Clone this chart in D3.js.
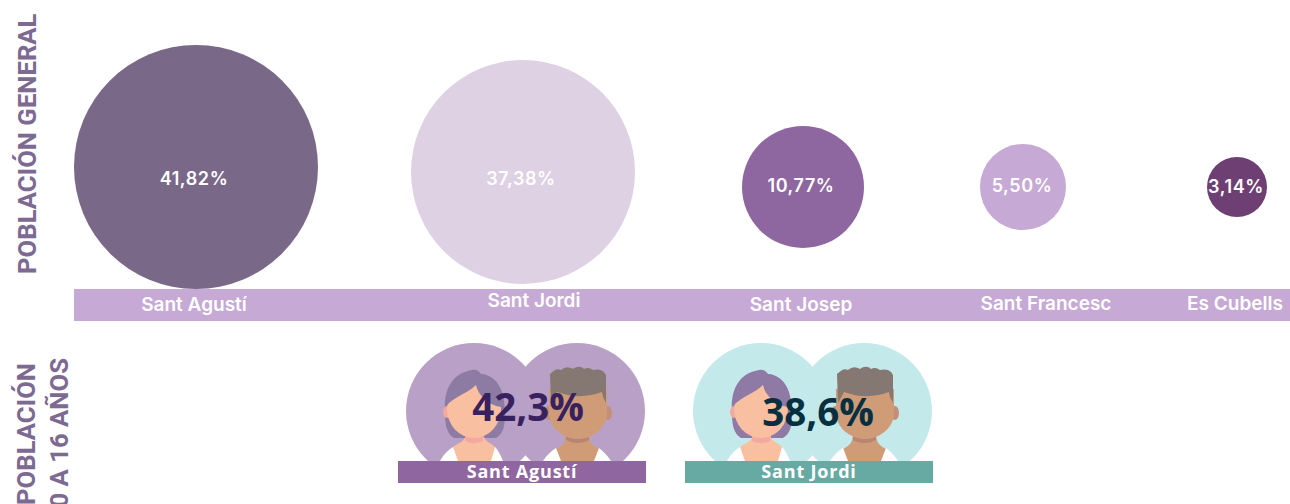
<!DOCTYPE html>
<html>
<head>
<meta charset="utf-8">
<script src="https://cdn.jsdelivr.net/npm/d3@7"></script>
<style>
    html, body { margin: 0; padding: 0; background: #fff; overflow: hidden; }
    .strip-label { font: 600 19px Inter, sans-serif; fill: #fff; text-anchor: middle; }
    .bubble-label { font: 600 18px Inter, sans-serif; fill: #fff; text-anchor: middle; letter-spacing: 0.6px; }
    .side-title { font: 700 25.7px Roboto, sans-serif; fill: #7c6a92; }
    .youth-value { font: 700 38.5px "Open Sans", sans-serif; text-anchor: middle; }
    .youth-name { font: 700 18px "Open Sans", sans-serif; fill: #fff; text-anchor: middle; letter-spacing: 0.8px; }
</style>
</head>
<body>
<div id="chart"></div>
<script>
const districts = ["Sant Agustí", "Sant Jordi", "Sant Josep", "Sant Francesc", "Es Cubells"];
const populationShare = [41.82, 37.38, 10.77, 5.50, 3.14];
const youthDistricts = ["Sant Agustí", "Sant Jordi"];
const youthShare = [42.3, 38.6];
const bubbleColors = ["#7a6888", "#ded1e3", "#8f67a0", "#c6a9d4", "#6e3f73"];

const width = 1290, height = 504;

const svg = d3.select("#chart").append("svg")
    .attr("width", width)
    .attr("height", height)
    .style("display", "block");

const es = d3.formatLocale({decimal: ",", thousands: ".", grouping: [3], currency: ["", "€"]});
const fmt2 = es.format(".2f");
const fmt1 = es.format(".1f");

// the bubbles are not evenly spaced in the original, so ordinal ranges
const bubbleX = d3.scaleOrdinal().domain(districts).range([196, 523, 803, 1023, 1237]);
const bubbleY = d3.scaleOrdinal().domain(districts).range([167, 172, 187, 187, 187]);
const labelX = d3.scaleOrdinal().domain(districts).range([194, 534, 801, 1046, 1235]);
const labelY = d3.scaleOrdinal().domain(districts).range([311, 307, 311, 310, 310]);
const valueX = d3.scaleOrdinal().domain(districts).range([194, 521, 801, 1022, 1236]);
const valueY = d3.scaleOrdinal().domain(districts).range([185, 185, 192, 192, 193]);
const radius = d3.scaleSqrt().domain([3.14, 5.5, 10.77, 37.38, 41.82]).range([30, 43, 61, 112, 122]);
const color = d3.scaleOrdinal().domain(districts).range(bubbleColors);

const general = districts.map((d, i) => ({name: d, value: populationShare[i]}));

svg.append("rect")
    .attr("x", 74).attr("y", 289)
    .attr("width", width - 74).attr("height", 32)
    .attr("fill", "#c6a9d4");

svg.append("g").selectAll("circle")
    .data(general)
    .enter().append("circle")
    .attr("cx", d => bubbleX(d.name))
    .attr("cy", d => bubbleY(d.name))
    .attr("r", d => radius(d.value))
    .attr("fill", d => color(d.name));

svg.append("g").selectAll("text")
    .data(general)
    .enter().append("text")
    .attr("class", "bubble-label")
    .attr("x", d => valueX(d.name))
    .attr("y", d => valueY(d.name))
    .text(d => fmt2(d.value) + "%");

svg.append("g").selectAll("text")
    .data(general)
    .enter().append("text")
    .attr("class", "strip-label")
    .attr("x", d => labelX(d.name))
    .attr("y", d => labelY(d.name))
    .text(d => d.name);

// side titles, rotated
function sideTitle(text, x, y, anchor) {
    svg.append("text")
        .attr("class", "side-title")
        .attr("text-anchor", anchor)
        .attr("transform", "translate(" + x + "," + y + ") rotate(-90)")
        .text(text);
}
sideTitle("POBLACIÓN GENERAL", 36, 274, "start");
sideTitle("POBLACIÓN", 35, 363, "end");
sideTitle("0 A 16 AÑOS", 68, 358, "end");

// faces
function drawWoman(g, hair) {
    g.append("path").attr("fill", hair)
        .attr("d", "M-29,2 C-31,-24 -20,-38 -2,-41 C2,-42 5,-40 7,-37 C22,-36 31,-22 31,2 C31,14 30,22 22,27 L-20,27 C-28,22 -29,12 -29,2 Z");
    g.append("path").attr("fill", "#f8c0a0")
        .attr("d", "M-21,50 L-21,36 C-14,31 -8,30 -8,22 L9,22 C9,30 16,31 21,36 L25,50 Z");
    g.append("path").attr("fill", "#fff")
        .attr("d", "M-34,50 C-30,43 -26,39 -21,36 L-16,50 Z");
    g.append("path").attr("fill", "#fff")
        .attr("d", "M29,50 C26,43 24,39 21,36 L17,50 Z");
    g.append("ellipse").attr("cx", -27).attr("cy", 1).attr("rx", 4).attr("ry", 6).attr("fill", "#f3a9a0");
    g.append("path").attr("fill", "#f4a9a0")
        .attr("d", "M-9,24 L9,24 L9,30 C3,33 -3,33 -9,30 Z");
    g.append("ellipse").attr("cx", 0).attr("cy", -2).attr("rx", 27).attr("ry", 29).attr("fill", "#f8c0a0");
    g.append("path").attr("fill", hair)
        .attr("d", "M-27,-6 C-20,-14 -6,-18 2,-26 C4,-16 14,-6 27,-4 C31,-14 28,-32 7,-37 L-8,-38 C-22,-32 -29,-20 -27,-6 Z");
}

function drawMan(g) {
    g.append("path").attr("fill", "#d09c78")
        .attr("d", "M-21,50 L-21,38 C-13,34 -11,30 -11,22 L12,22 C12,30 14,34 22,38 L22,50 Z");
    g.append("path").attr("fill", "#fff")
        .attr("d", "M-34,50 C-30,44 -26,40 -21,37 L-16,50 Z");
    g.append("path").attr("fill", "#fff")
        .attr("d", "M34,50 C30,44 26,40 22,37 L17,50 Z");
    g.append("path").attr("fill", "#b98573")
        .attr("d", "M-11,24 L12,24 L12,29 C5,33 -4,33 -11,29 Z");
    g.append("ellipse").attr("cx", -29).attr("cy", 2).attr("rx", 4).attr("ry", 7).attr("fill", "#c48f78");
    g.append("ellipse").attr("cx", 31).attr("cy", 2).attr("rx", 4).attr("ry", 7).attr("fill", "#c48f78");
    g.append("path").attr("fill", "#d09c78")
        .attr("d", "M-28,-22 L30,-22 L30,2 C30,18 14,28 1,28 C-12,28 -28,18 -28,2 Z");
    g.append("path").attr("fill", "#857872")
        .attr("d", "M-26,-8 L-27,-37 C-22,-41 -20,-43 -16,-41 C-11,-45 -8,-44 -4,-42 C0,-45 4,-45 7,-42 C11,-44 13,-43 16,-41 C20,-42 24,-42 27,-39 L29,-36 L29,-8 L26,-14 L25,-19 C12,-14 -4,-13 -20,-19 Z");
}

const pairX = d3.scaleOrdinal().domain(youthDistricts).range([398, 685]);
const pairValueX = d3.scaleOrdinal().domain(youthDistricts).range([528, 818]);
const pairValueY = d3.scaleOrdinal().domain(youthDistricts).range([421, 426]);
const circleFill = d3.scaleOrdinal().domain(youthDistricts).range(["#b9a0c6", "#c4e9ea"]);
const bandFill = d3.scaleOrdinal().domain(youthDistricts).range(["#8f66a0", "#66aaa3"]);
const valueFill = d3.scaleOrdinal().domain(youthDistricts).range(["#38215f", "#06303f"]);
const hairFill = d3.scaleOrdinal().domain(youthDistricts).range(["#8d7ba3", "#8f7aa5"]);

const youth = youthDistricts.map((d, i) => ({name: d, value: youthShare[i]}));

youth.forEach(function (d) {
    const g = svg.append("g").attr("transform", "translate(" + pairX(d.name) + ",0)");

    const woman = g.append("g").attr("transform", "translate(76,411)");
    const man = g.append("g").attr("transform", "translate(179,411)");
    woman.append("circle").attr("r", 68).attr("fill", circleFill(d.name));
    man.append("circle").attr("r", 68).attr("fill", circleFill(d.name));
    drawWoman(woman, hairFill(d.name));
    drawMan(man);

    g.append("rect")
        .attr("x", 0).attr("y", 461)
        .attr("width", 248).attr("height", 22)
        .attr("fill", bandFill(d.name));

    g.append("text")
        .attr("class", "youth-name")
        .attr("x", 124).attr("y", 478)
        .text(d.name);

    svg.append("text")
        .attr("class", "youth-value")
        .attr("x", pairValueX(d.name))
        .attr("y", pairValueY(d.name))
        .attr("fill", valueFill(d.name))
        .text(fmt1(d.value) + "%");
});
</script>
</body>
</html>
